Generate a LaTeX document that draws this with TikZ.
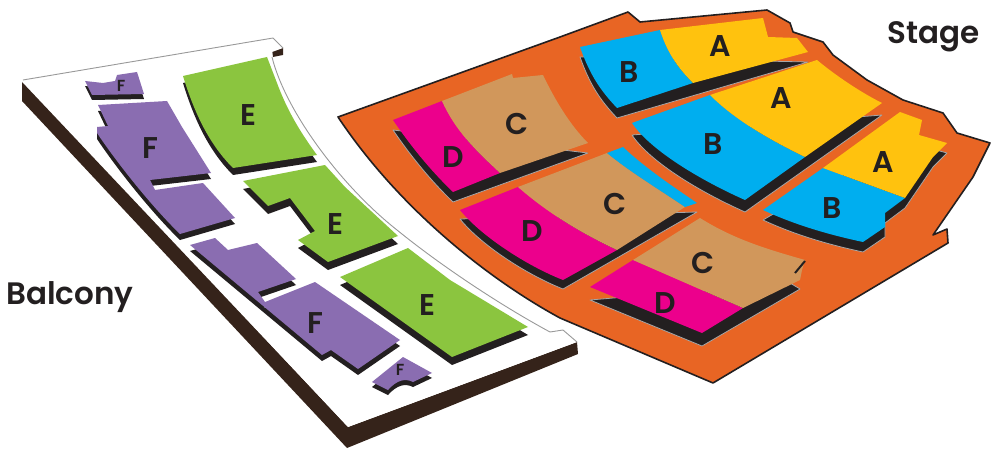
\documentclass[tikz,border=0pt]{standalone}
\usepackage{fontspec}
\setmainfont{Poppins}[BoldFont={Poppins SemiBold}]
\definecolor{inkblack}{HTML}{231F20}
\definecolor{plinth}{HTML}{35231A}
\definecolor{stageorange}{HTML}{E86524}
\definecolor{zonea}{HTML}{FFC20E}
\definecolor{zoneb}{HTML}{00AEEF}
\definecolor{zonec}{HTML}{D1975B}
\definecolor{zoned}{HTML}{EC008C}
\definecolor{zonee}{HTML}{8BC53F}
\definecolor{zonef}{HTML}{8A6DB1}
\newcommand{\stageblock}[2]{\draw[stageshade,shift={(0,#1)}] #2;}
\newcommand{\balconyblock}[3]{\fill[inkblack,shift={(0,#1)}] #3; \fill[#2] #3;}

\begin{document}
\begin{tikzpicture}[
    x=1pt, y=-1pt,
    stageshade/.style={draw=gray!70, line width=0.8pt, fill=inkblack, line join=round},
    hall/.style={fill=stageorange, draw=inkblack, line width=1.6pt, line join=round},
    plate/.style={draw=gray!80, line width=0.9pt},
    biglabel/.style={font=\fontsize{31}{36}\selectfont\bfseries, text=inkblack, inner sep=0pt},
    seat/.style={font=\fontsize{30}{34}\selectfont\bfseries, text=inkblack, inner sep=0pt},
    tinyseat/.style={font=\fontsize{16}{18}\selectfont\bfseries, text=inkblack, inner sep=0pt}
  ]
    \useasboundingbox (0,0) rectangle (992,449);

    % balcony base
    \fill[plinth] (22,82) -- (22,101) -- (347,448) -- (578,354) -- (577,342) -- (348,427) -- cycle;
    \fill[plinth] (272,50) -- (283,48) -- (283,55) -- (273,57) -- cycle;
    \fill[white] (23,80) -- (273,38) -- (283,48) -- (272,52) -- (272,57) .. controls (285,110) and (340,185) .. (397,230) .. controls (440,265) and (500,305) .. (550,332) -- (563,330) -- (577,342) -- (348,427) -- cycle;
    \draw[plate] (23,80) -- (273,38) -- (283,48);
    \draw[plate] (272,57) .. controls (285,110) and (340,185) .. (397,230) .. controls (440,265) and (500,305) .. (550,332) -- (563,330) -- (577,342);

    % balcony seats
    \balconyblock{5}{zonef}{(85,81) -- (103,83) -- (115,81) -- (117,75) -- (137,72) -- (144,94) -- (92,95) -- cycle}
    \balconyblock{6}{zonef}{(98,105) -- (167,101) -- (182,127) -- (211,173) -- (150,180) -- (155,190) -- (203,183) -- (235,218) -- (180,234) .. controls (150,205) and (115,160) .. (97,133) -- (97,127) -- (108,126) -- cycle}
    \balconyblock{6}{zonef}{(190,245) -- (215,238) -- (228,250) -- (257,243) -- (296,279) -- (258,292) -- (265,302) -- (315,282) -- (400,340) -- (358,369) -- (331,350) -- (322,355) -- cycle}
    \balconyblock{5}{zonef}{(372,382) -- (403,357) -- (432,373) -- (413,382) .. controls (405,378) and (397,380) .. (388,390) -- cycle}
    \balconyblock{7}{zonee}{(183,76) -- (267,57) -- (277,83) .. controls (287,110) and (300,132) .. (317,155) -- (233,168) .. controls (210,145) and (195,115) .. (183,76) -- cycle}
    \balconyblock{8}{zonee}{(243,181) -- (325,165) -- (345,187) -- (398,236) -- (328,262) -- (298,240) -- (315,231) -- (290,198) -- (268,206) -- cycle}
    \balconyblock{8}{zonee}{(340,277) -- (408,248) -- (450,280) -- (528,327) -- (452,357) -- cycle}

    % stage floor
    \draw[hall] (338,117) -- (560,37) -- (628,12) -- (640,22) -- (767,10) -- (790,23) -- (793,32) -- (823,42) -- (833,55) -- (867,80) -- (903,100) -- (943,113) -- (957,133) -- (990,143) -- (973,177) -- (933,235) -- (947,229) -- (948,243) -- (713,383) -- (560,318) .. controls (490,280) and (400,210) .. (338,117) -- cycle;

    % stage seats, top row
    \stageblock{10}{(580,47) .. controls (590,75) and (600,90) .. (617,108) -- (808,52) -- cycle}
    \fill[zoneb] (580,47) -- (660,30) .. controls (668,55) and (680,70) .. (693,83) -- (617,108) .. controls (600,90) and (590,75) .. (580,47) -- cycle;
    \fill[zonea] (660,30) -- (763,18) -- (768,37) -- (797,38) -- (808,52) -- (693,83) .. controls (680,70) and (668,55) .. (660,30) -- cycle;

    \stageblock{12}{(632,123) .. controls (650,150) and (700,180) .. (745,200) -- (882,103) -- cycle}
    \fill[zoneb] (632,123) -- (710,95) .. controls (735,120) and (770,140) .. (805,157) -- (745,200) .. controls (700,180) and (650,150) .. (632,123) -- cycle;
    \fill[zonea] (710,95) -- (817,60) .. controls (835,75) and (860,92) .. (882,103) -- (805,157) .. controls (770,140) and (735,120) .. (710,95) -- cycle;

    \stageblock{10}{(763,210) .. controls (795,225) and (830,235) .. (863,242) -- (885,227) -- (885,213) -- (905,198) -- (933,157) -- (947,143) -- (900,130) -- cycle}
    \fill[zoneb] (763,210) -- (823,168) -- (905,198) -- (885,213) -- (885,227) -- (863,242) .. controls (830,235) and (795,225) .. (763,210) -- cycle;
    \fill[zonea] (823,168) -- (900,112) -- (922,120) -- (919,135) -- (947,143) -- (933,157) -- (905,198) -- cycle;

    % stage seats, middle and front
    \stageblock{10}{(393,120) .. controls (410,145) and (430,170) .. (453,192) -- (588,143) -- cycle}
    \fill[zoned] (393,120) -- (442,101) .. controls (455,130) and (475,150) .. (500,173) -- (453,192) .. controls (430,170) and (410,145) .. (393,120) -- cycle;
    \fill[zonec] (442,101) -- (512,74) -- (513,78) -- (543,75) .. controls (555,100) and (570,125) .. (588,143) -- (500,173) .. controls (475,150) and (455,130) .. (442,101) -- cycle;

    \stageblock{9}{(460,210) .. controls (480,235) and (525,265) .. (563,280) -- (697,203) -- cycle}
    \fill[zoned] (460,210) -- (518,187) .. controls (550,215) and (585,235) .. (617,250) -- (563,280) .. controls (525,265) and (480,235) .. (460,210) -- cycle;
    \fill[zonec] (518,187) -- (607,153) .. controls (630,172) and (660,190) .. (685,207) -- (617,250) .. controls (585,235) and (550,215) .. (518,187) -- cycle;
    \fill[zoneb] (607,153) -- (623,147) .. controls (645,168) and (675,188) .. (697,203) -- (685,207) .. controls (660,190) and (630,172) .. (607,153) -- cycle;

    \stageblock{13}{(590,287) -- (702,333) -- (800,276) -- (790,270) -- cycle}
    \fill[zoned] (590,287) -- (633,260) -- (743,308) -- (702,333) -- cycle;
    \fill[zonec] (633,260) -- (700,218) .. controls (735,240) and (770,250) .. (805,260) -- (802,270) -- (800,280) -- (743,308) -- cycle;
    \draw[inkblack, line width=2pt] (795,273) -- (805,261);

    % labels
    \node[biglabel] (stagelabel) at (934,37) {Stage};
    \node[biglabel] (balconylabel) at (70,297) {Balcony};
    \node[seat] (a1) at (720,46) {A};
    \node[seat] (b1) at (629,72) {B};
    \node[seat] (a2) at (781,98) {A};
    \node[seat] (b2) at (713,144) {B};
    \node[seat] (a3) at (883,162) {A};
    \node[seat] (b3) at (832,208) {B};
    \node[seat] (c1) at (517,124) {C};
    \node[seat] (d1) at (453,157) {D};
    \node[seat] (c2) at (615,204) {C};
    \node[seat] (d2) at (532,231) {D};
    \node[seat] (c3) at (703,263) {C};
    \node[seat] (d3) at (665,303) {D};
    \node[seat] (e1) at (248,115) {E};
    \node[seat] (e2) at (335,224) {E};
    \node[seat] (e3) at (427,305) {E};
    \node[seat] (f1) at (150,148) {F};
    \node[seat] (f2) at (315,323) {F};
    \node[tinyseat] (f3) at (121,86) {F};
    \node[tinyseat] (f4) at (400,370) {F};
\end{tikzpicture}
\end{document}
